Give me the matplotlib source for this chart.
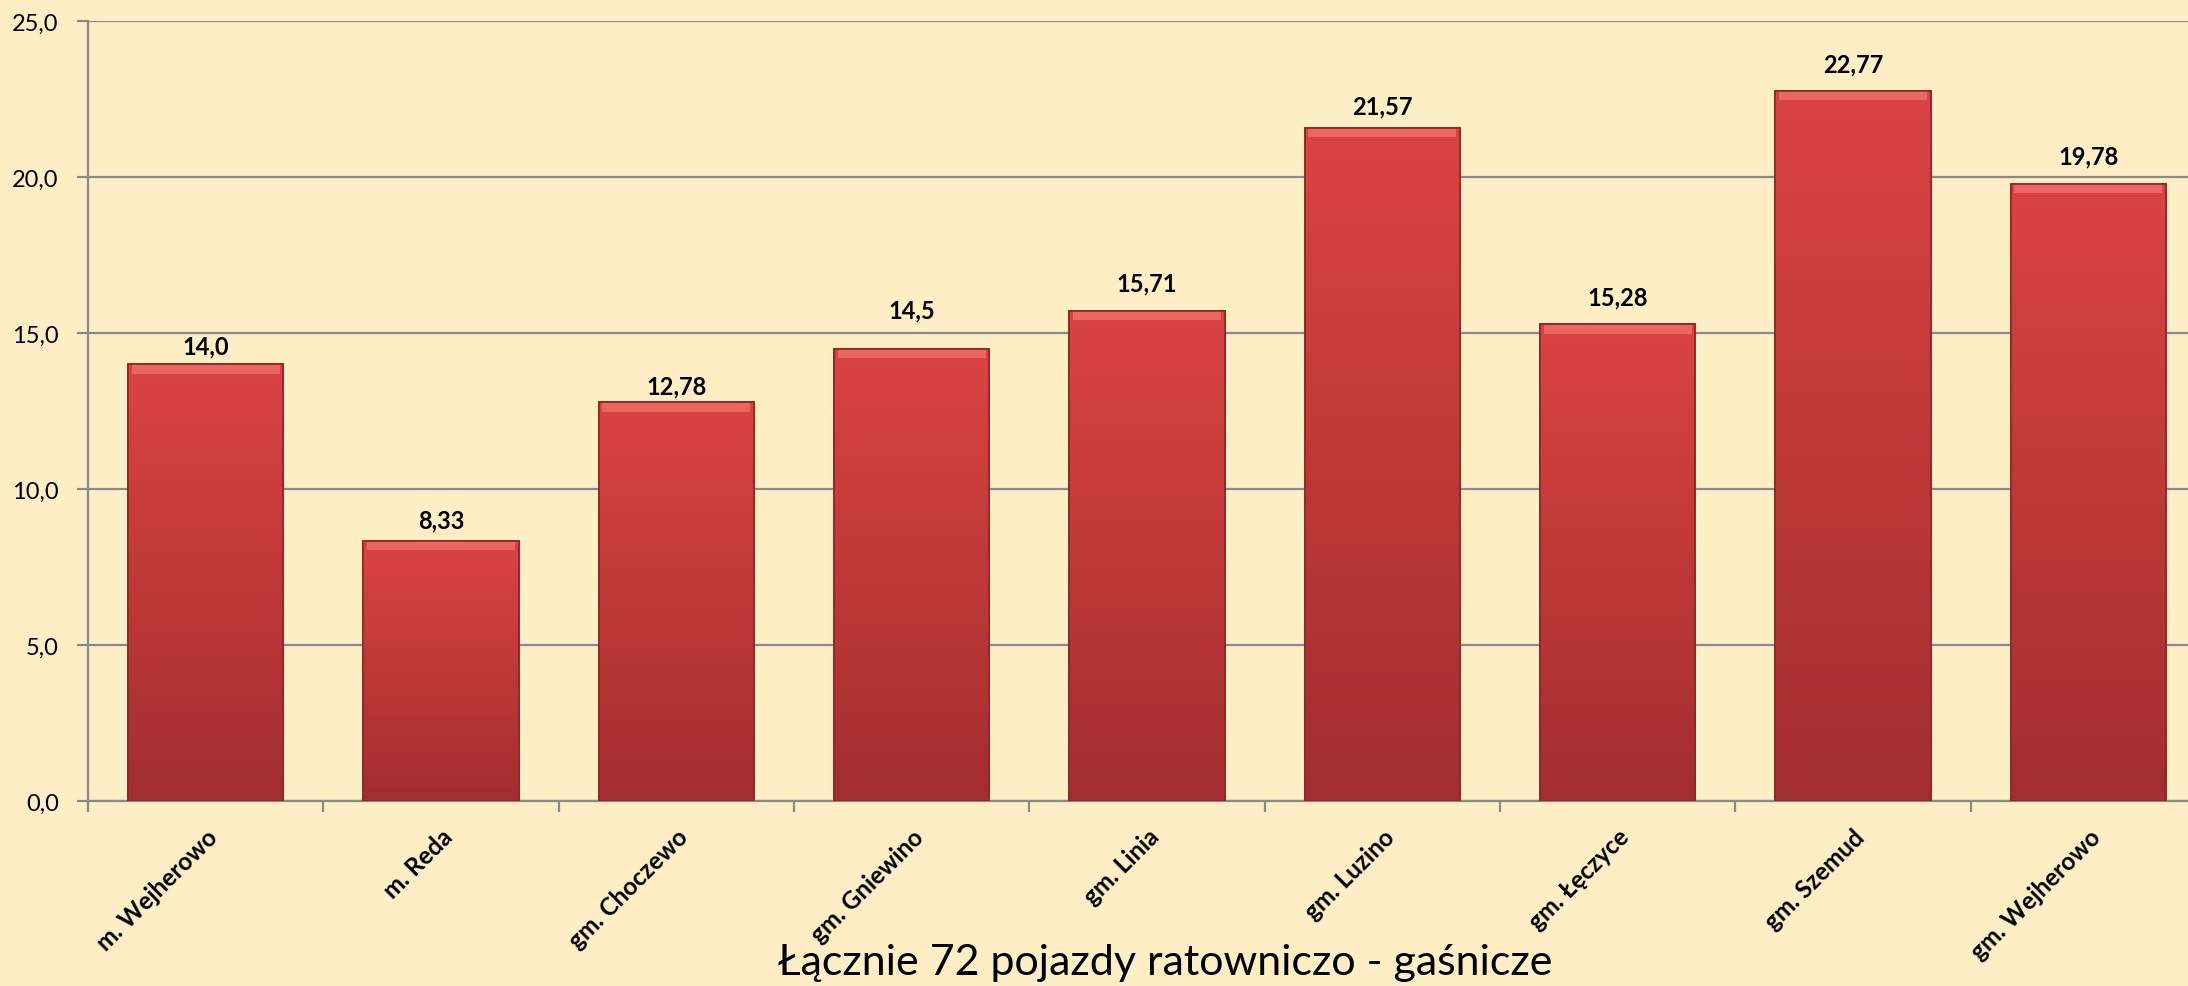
import numpy as np
import matplotlib
matplotlib.use('Agg')
import matplotlib.pyplot as plt
from matplotlib.patches import Rectangle
from matplotlib.transforms import ScaledTranslation

plt.rcParams['font.family'] = ['Lato', 'DejaVu Sans']

categories = ['m. Wejherowo', 'm. Reda', 'gm. Choczewo', 'gm. Gniewino', 'gm. Linia',
              'gm. Luzino', 'gm. Łęczyce', 'gm. Szemud', 'gm. Wejherowo']
values = [14.0, 8.33, 12.78, 14.5, 15.71, 21.57, 15.28, 22.77, 19.78]
value_labels = ['14,0', '8,33', '12,78', '14,5', '15,71', '21,57', '15,28', '22,77', '19,78']
title = 'Łącznie 72 pojazdy ratowniczo - gaśnicze'

# label gap above each bar (points), as placed in the original
label_gap = [13, 15, 11.5, 28, 20, 16, 19.5, 19, 20]

bg = '#FDEEC6'
grid_col = '#898989'

fig = plt.figure(figsize=(21.88, 9.87), dpi=100, facecolor=bg)
ax = fig.add_axes([88/2188, 185/987, 2118/2188, 780/987])
ax.set_facecolor(bg)

x = np.arange(len(categories))
bars = ax.bar(x, values, width=0.66, color='#C63B3B', edgecolor='#8E2626',
              linewidth=1.2, zorder=3)

# vertical gradient inside each bar
grad = np.linspace(0, 1, 256).reshape(-1, 1)
cmap = matplotlib.colors.LinearSegmentedColormap.from_list('r', ['#A32E2F', '#DB4343'])
for b in bars:
    x0, w, h = b.get_x(), b.get_width(), b.get_height()
    im = ax.imshow(grad, cmap=cmap, extent=[x0, x0 + w, 0, h], origin='lower',
                   aspect='auto', zorder=3.5)
    im.set_clip_path(b)
    # light bevel at top
    ax.add_patch(Rectangle((x0 + 0.015, h - 0.3), w - 0.03, 0.28,
                           facecolor='#EC6662', edgecolor='none', zorder=4))
    ax.add_patch(Rectangle((x0, 0), w, h, facecolor='none', edgecolor='#8E2626',
                           linewidth=1.2, zorder=4.5))

for xi, v, lab, g in zip(x, values, value_labels, label_gap):
    ax.annotate(lab, (xi, v), xytext=(0, g), textcoords='offset points',
                ha='center', va='center', fontsize=17, fontweight='bold', zorder=5)

ax.set_xlim(-0.5, len(categories) - 0.5)
ax.set_ylim(0, 25)
ax.set_yticks(np.arange(0, 26, 5))
ax.set_yticklabels([f'{t:.1f}'.replace('.', ',') for t in np.arange(0, 26, 5)], fontsize=17)
ax.grid(axis='y', color=grid_col, linewidth=1.6, zorder=1)
ax.set_axisbelow(True)

ax.set_xticks(x)
ax.set_xticklabels(categories, rotation=45, ha='right', rotation_mode='anchor',
                   fontsize=17.5, fontweight='bold')
shift = ScaledTranslation(-6/100, 0, fig.dpi_scale_trans)
for lbl in ax.get_xticklabels():
    lbl.set_transform(lbl.get_transform() + shift)
ax.set_xticks(np.arange(-0.5, len(categories), 1), minor=True)
ax.tick_params(axis='x', which='major', length=0, pad=17)
ax.tick_params(axis='x', which='minor', length=8, color=grid_col, width=1.6)
ax.tick_params(axis='y', length=8, color=grid_col, width=1.6, pad=13)

for s in ['top', 'right']:
    ax.spines[s].set_visible(False)
for s in ['left', 'bottom']:
    ax.spines[s].set_color(grid_col)
    ax.spines[s].set_linewidth(1.6)

fig.text(1165/2188, 1 - 963/987, title, ha='center', va='center', fontsize=31)

fig.savefig('out.png', dpi=100, facecolor=bg)
